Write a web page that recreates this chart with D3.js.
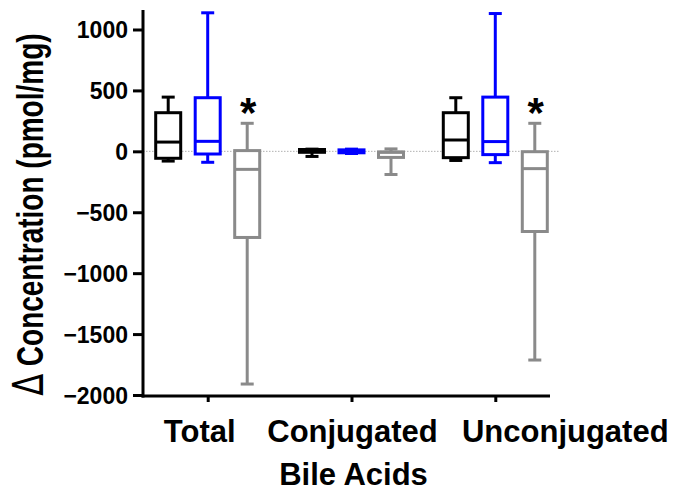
<!DOCTYPE html>
<html>
<head>
<meta charset="utf-8">
<script src="https://cdn.jsdelivr.net/npm/d3@7"></script>
<style>
  html, body { margin: 0; padding: 0; background: #fff; }
  svg { display: block; }
  text { font-family: "Liberation Sans", Arial, sans-serif; }
</style>
</head>
<body>
<svg id="chart" width="678" height="492"></svg>
<script>
// ---- data ----
const categories = ["Total", "Conjugated", "Unconjugated"];
const seriesNames = ["Group 1", "Group 2", "Group 3"];
const seriesColors = ["#000000", "#0000ff", "#8a8a8a"];
// each entry: [min, q1, median, q3, max]
const series1 = [[-80, -57, 76, 317, 445], [-42, -8, 3, 15, 18], [-75, -52, 93, 317, 440]];
const series2 = [[-90, -22, 82, 440, 1137], [-18, -12, 0, 12, 18], [-93, -27, 80, 445, 1131]];
const series3 = [[-1910, -707, -148, 6, 230], [-190, -50, -8, -5, 20], [-1713, -658, -142, -3, 230]];
const significant = [[false, false, false], [false, false, false], [true, false, true]];
const yTicks = [1000, 500, 0, -500, -1000, -1500, -2000];
const yTitle = "Concentration (pmol/mg)";
const xTitle = "Bile Acids";

const allSeries = [series1, series2, series3];

const svg = d3.select("#chart");

const y = d3.scaleLinear().domain([-2000, 1160]).range([395, 10]);
const x = d3.scalePoint().domain(categories).range([143, 560]).padding(0.45);
const xs = d3.scalePoint().domain(seriesNames).range([-39.5, 39.5]);
const boxW = 25, capW = 13, sw = 3;
const axisLeftX = 143, axisRightX = 550, axisY = 396;
const labelShift = [-8, 1, 70]; // layout nudges of category labels

// zero reference line
svg.append("line")
  .attr("x1", axisLeftX).attr("x2", 560)
  .attr("y1", y(0)).attr("y2", y(0))
  .attr("stroke", "#b0b0b0").attr("stroke-width", 1)
  .attr("stroke-dasharray", "1.5,1.5");

// boxes
allSeries.forEach((ser, si) => {
  const color = seriesColors[si];
  const g = svg.append("g");
  ser.forEach((d, ci) => {
    const cx = x(categories[ci]) + xs(seriesNames[si]);
    const [mn, q1, md, q3, mx] = d;
    g.append("line").attr("x1", cx).attr("x2", cx).attr("y1", y(mx)).attr("y2", y(q3))
      .attr("stroke", color).attr("stroke-width", sw);
    g.append("line").attr("x1", cx).attr("x2", cx).attr("y1", y(q1)).attr("y2", y(mn))
      .attr("stroke", color).attr("stroke-width", sw);
    [mn, mx].forEach(v => {
      g.append("line").attr("x1", cx - capW / 2).attr("x2", cx + capW / 2)
        .attr("y1", y(v)).attr("y2", y(v))
        .attr("stroke", color).attr("stroke-width", sw);
    });
    g.append("rect").attr("x", cx - boxW / 2).attr("y", y(q3))
      .attr("width", boxW).attr("height", Math.max(0.1, y(q1) - y(q3)))
      .attr("fill", "#fff").attr("stroke", color).attr("stroke-width", sw);
    g.append("line").attr("x1", cx - boxW / 2).attr("x2", cx + boxW / 2)
      .attr("y1", y(md)).attr("y2", y(md))
      .attr("stroke", color).attr("stroke-width", sw);
    if (significant[si][ci]) {
      svg.append("text").attr("x", cx + 1).attr("y", y(mx) + 4)
        .attr("text-anchor", "middle").attr("font-weight", "bold")
        .attr("font-size", 42).text("*");
    }
  });
});

// y axis
const yAxis = d3.axisLeft(y).tickValues(yTicks).tickSize(10).tickSizeOuter(0)
  .tickFormat(d3.format("d"));
const yg = svg.append("g").attr("transform", `translate(${axisLeftX},0)`).call(yAxis);
yg.select(".domain").attr("stroke", "#000").attr("stroke-width", 3)
  .attr("d", `M0,${y.range()[1]}V${axisY + 1.5}`);
yg.selectAll(".tick line").attr("stroke", "#000").attr("stroke-width", 3);
yg.selectAll(".tick text").attr("font-family", "Liberation Sans, Arial, sans-serif")
  .attr("font-size", 23).attr("font-weight", "bold").attr("fill", "#000")
  .attr("x", -15).attr("dy", "0.36em");

// x axis
const xAxis = d3.axisBottom(x).tickSize(6).tickSizeOuter(0).tickFormat(() => "");
const xg = svg.append("g").attr("transform", `translate(0,${axisY})`).call(xAxis);
xg.select(".domain").attr("stroke", "#000").attr("stroke-width", 3)
  .attr("d", `M${axisLeftX - 1.5},0H${axisRightX}`);
xg.selectAll(".tick line").attr("stroke", "#000").attr("stroke-width", 3);

// category labels
svg.append("g").selectAll("text").data(categories).join("text")
  .attr("x", (d, i) => x(d) + labelShift[i]).attr("y", 442)
  .attr("text-anchor", "middle").attr("font-weight", "bold").attr("font-size", 31)
  .text(d => d);

// x title
svg.append("text").attr("x", x(categories[1]) + 2).attr("y", 485)
  .attr("text-anchor", "middle").attr("font-weight", "bold").attr("font-size", 31)
  .text(xTitle);

// y title
const yt = svg.append("text")
  .attr("transform", `translate(43,214.5) scale(1.35,1) rotate(-90)`)
  .attr("text-anchor", "middle");
yt.append("tspan").attr("font-size", 32).attr("font-weight", "normal")
  .attr("font-family", "DejaVu Sans, sans-serif").text("\u2206");
yt.append("tspan").attr("font-size", 28).attr("font-weight", "bold").attr("dx", 8).text(yTitle);
</script>
</body>
</html>
